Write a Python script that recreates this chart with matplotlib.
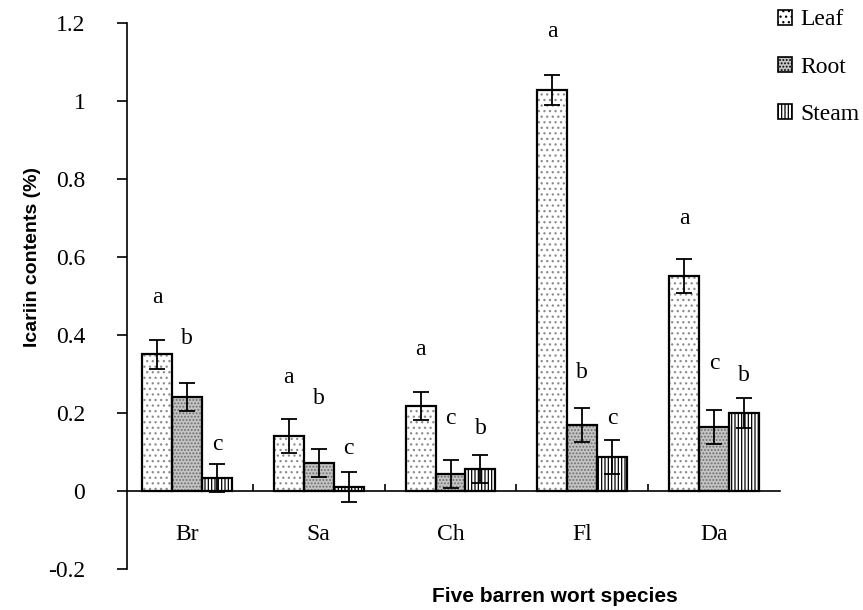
"""
Icariin contents in leaf / root / steam of five barren wort species
grouped bars + error bars + significance letters
"""

import matplotlib
matplotlib.use("Agg")
import matplotlib.pyplot as plt
from matplotlib.patches import Patch
import numpy as np

# ─── data ──────────────────────────────────────────────────────────────────
species = ["Br", "Sa", "Ch", "Fl", "Da"]
parts = ["Leaf", "Root", "Steam"]

leaf = [0.351, 0.141, 0.218, 1.028, 0.551]
root = [0.241, 0.072, 0.044, 0.169, 0.164]
steam = [0.033, 0.010, 0.056, 0.087, 0.200]

leaf_err = [0.037, 0.044, 0.037, 0.039, 0.044]
root_err = [0.036, 0.036, 0.036, 0.044, 0.044]
steam_err = [0.036, 0.039, 0.036, 0.044, 0.038]

# significance letters (per species: leaf, root, steam) and their heights
letters = [["a", "b", "c"], ["a", "b", "c"], ["a", "c", "b"],
           ["a", "b", "c"], ["a", "c", "b"]]
letter_y = [[0.495, 0.392, 0.120], [0.290, 0.238, 0.110],
            [0.364, 0.187, 0.159], [1.177, 0.303, 0.187],
            [0.700, 0.326, 0.295]]

yticks = [-0.2, 0, 0.2, 0.4, 0.6, 0.8, 1.0, 1.2]
ytick_labels = ["-0.2", "0", "0.2", "0.4", "0.6", "0.8", "1", "1.2"]

# ─── style ─────────────────────────────────────────────────────────────────
SERIF = ["Liberation Serif", "DejaVu Serif"]
SANS = ["Liberation Sans", "DejaVu Sans"]
FS = 17

plt.rcParams["font.family"] = SERIF
plt.rcParams["hatch.linewidth"] = 0.9

styles = {
    "Leaf": dict(face="white", hatch="...", hcolor="#8c8c8c"),
    "Root": dict(face="#c4c4c4", hatch=".....", hcolor="#6e6e6e"),
    "Steam": dict(face="white", hatch="|||||", hcolor="black"),
}

fig = plt.figure(figsize=(8.63, 6.10), dpi=100)
ax = fig.add_axes([127 / 863, 41 / 610, (780 - 127) / 863, (569 - 23) / 610])

x = np.arange(len(species))
w = 0.227
offsets = [-w, 0, w]

for part, vals, errs, off in zip(parts, [leaf, root, steam],
                                 [leaf_err, root_err, steam_err], offsets):
    st = styles[part]
    # fill + hatch first, outline on top
    ax.bar(x + off, vals, w, color=st["face"], hatch=st["hatch"],
           edgecolor=st["hcolor"], linewidth=0, zorder=2)
    ax.bar(x + off, vals, w, fill=False, edgecolor="black", linewidth=1.6, zorder=3)
    ax.errorbar(x + off, vals, yerr=errs, fmt="none", ecolor="black",
                elinewidth=1.3, capsize=5.5, capthick=1.3, zorder=4)

for i in range(len(species)):
    for j, off in enumerate(offsets):
        ax.text(x[i] + off, letter_y[i][j], letters[i][j], ha="center",
                va="center", fontsize=FS)

# ─── axes ──────────────────────────────────────────────────────────────────
ax.set_xlim(-0.455, 4.5)
ax.set_ylim(-0.2, 1.2)
for s in ["top", "right"]:
    ax.spines[s].set_visible(False)
ax.spines["bottom"].set_position(("data", 0))
ax.spines["left"].set_linewidth(1.2)
ax.spines["bottom"].set_linewidth(1.2)

ax.set_yticks(yticks)
ax.set_yticklabels(ytick_labels, fontsize=FS)
ax.tick_params(axis="y", direction="out", length=7, width=1.2, pad=23)

ax.set_xticks(x)
ax.set_xticklabels(species, fontsize=FS)
ax.set_xticks(np.arange(len(species) - 1) + 0.5, minor=True)
ax.tick_params(axis="x", which="major", length=0, pad=24)
ax.tick_params(axis="x", which="minor", direction="in", length=5, width=1.2)

fig.text(555 / 863, 1 - 597 / 610, "Five barren wort species", family=SANS,
         fontweight="bold", fontsize=15, ha="center", va="center")
fig.text(33 / 863, 1 - 257 / 610, "Icariin contents (%)", family=SANS,
         fontweight="bold", fontsize=14, ha="center", va="center", rotation=90)

handles = [Patch(facecolor=styles[p]["face"], hatch=styles[p]["hatch"],
                 edgecolor="black", linewidth=1.2) for p in parts]
fig.legend(handles, parts, loc="upper left", bbox_to_anchor=(766 / 863, 1.004),
           frameon=False, fontsize=FS, borderpad=0, handlelength=0.6,
           handleheight=0.6, handletextpad=0.35, labelspacing=1.12)

fig.savefig("out.png", dpi=100)
